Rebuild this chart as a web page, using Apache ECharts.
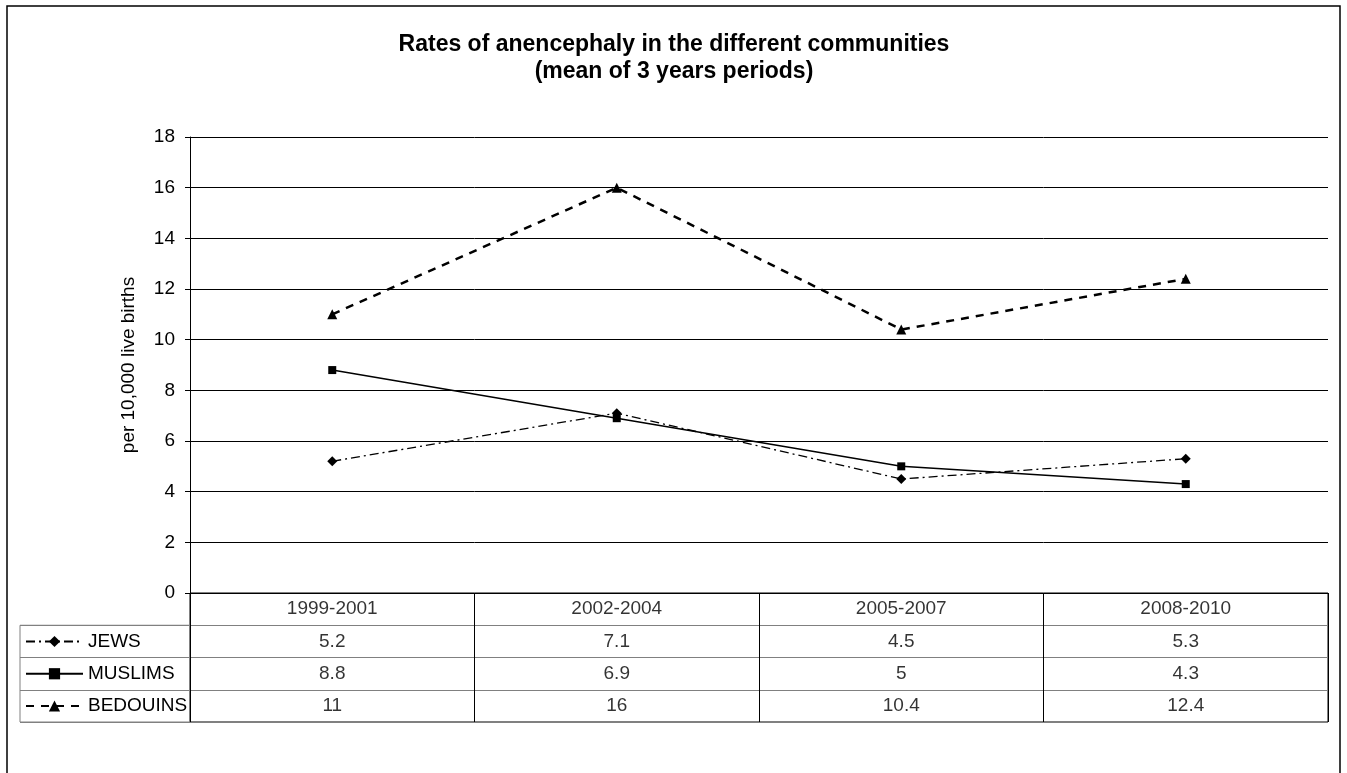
<!DOCTYPE html>
<html>
<head>
<meta charset="utf-8">
<script src="https://cdn.jsdelivr.net/npm/echarts@6/dist/echarts.min.js"></script>
<style>
html,body{margin:0;padding:0;background:#fff;}
#chart{width:1347px;height:773px;}
</style>
</head>
<body>
<div id="chart"></div>
<script>
var categories = ['1999-2001', '2002-2004', '2005-2007', '2008-2010'];
var seriesNames = ['JEWS', 'MUSLIMS', 'BEDOUINS'];
var jews = [5.2, 7.1, 4.5, 5.3];
var muslims = [8.8, 6.9, 5, 4.3];
var bedouins = [11, 16, 10.4, 12.4];
var yTicks = [0, 2, 4, 6, 8, 10, 12, 14, 16, 18];
var titleText = 'Rates of anencephaly in the different communities\n(mean of 3 years periods)';
var yName = 'per 10,000 live births';

var FONT = 'Liberation Sans, Arial, sans-serif';
var allValues = [jews, muslims, bedouins];

var tableRows = ['hdr'].concat(seriesNames);

var headerData = categories.map(function (c, i) {
  return { value: [i, 'hdr'], name: c };
});
var cellData = [];
seriesNames.forEach(function (s, si) {
  allValues[si].forEach(function (v, i) {
    cellData.push({ value: [i, s], name: String(v) });
  });
});

var chart = echarts.init(document.getElementById('chart'), null, { renderer: 'canvas' });
var option = {
  backgroundColor: '#fff',
  animation: false,
  textStyle: { fontFamily: FONT },
  title: {
    text: titleText,
    left: 674,
    top: 31,
    padding: 0,
    textAlign: 'center',
    textStyle: { fontFamily: FONT, fontSize: 23, fontWeight: 'bold', color: '#000', lineHeight: 27 }
  },
  graphic: [{
    type: 'rect',
    z: -10,
    silent: true,
    shape: { x: 7, y: 6, width: 1333, height: 820 },
    style: { fill: 'none', stroke: '#000', lineWidth: 1.5 }
  }],
  legend: {
    orient: 'vertical',
    left: 25,
    top: 632,
    padding: 0,
    itemWidth: 57,
    itemHeight: 14,
    itemGap: 13.25,
    data: seriesNames,
    textStyle: { fontFamily: FONT, fontSize: 19, color: '#000' },
    selectedMode: false
  },
  grid: [
    { left: 190, right: 19, top: 137, height: 456, show: false },
    { left: 190, right: 19, top: 593, height: 129, show: true, borderColor: '#000', borderWidth: 1, backgroundColor: 'transparent' },
    { left: 20, width: 170, top: 625.25, height: 96.75, show: true, borderColor: '#808080', borderWidth: 1, backgroundColor: 'transparent' }
  ],
  xAxis: [
    {
      gridIndex: 0, type: 'category', data: categories, boundaryGap: true,
      axisLine: { show: true, lineStyle: { color: '#000', width: 1 } },
      axisTick: { show: false }, axisLabel: { show: false }, splitLine: { show: false }
    },
    {
      gridIndex: 1, type: 'category', data: categories, boundaryGap: true,
      axisLine: { show: false }, axisTick: { show: false }, axisLabel: { show: false },
      splitLine: { show: true, interval: 0, lineStyle: { color: '#000', width: 1 } }
    },
    {
      gridIndex: 2, type: 'value', min: 0, max: 1, show: false
    }
  ],
  yAxis: [
    {
      gridIndex: 0, type: 'value', min: 0, max: 18, interval: 2,
      name: yName, nameLocation: 'middle', nameGap: 52, nameRotate: 90,
      nameTextStyle: { fontFamily: FONT, fontSize: 19, color: '#000' },
      axisLine: { show: true, lineStyle: { color: '#000', width: 1 } },
      axisTick: { show: true, inside: false, length: 5, lineStyle: { color: '#000' } },
      axisLabel: {
        margin: 15, fontFamily: FONT, fontSize: 19, color: '#000',
        formatter: function (v) { return yTicks.indexOf(v) >= 0 ? String(v) : ''; }
      },
      splitLine: { show: true, lineStyle: { color: '#000', width: 1 } }
    },
    {
      gridIndex: 1, type: 'category', data: tableRows, inverse: true,
      axisLine: { show: false }, axisTick: { show: false }, axisLabel: { show: false },
      splitLine: { show: true, interval: 0, lineStyle: { color: '#808080', width: 1 } }
    },
    {
      gridIndex: 2, type: 'category', data: seriesNames, inverse: true,
      axisLine: { show: false }, axisTick: { show: false }, axisLabel: { show: false },
      splitLine: { show: true, interval: 0, lineStyle: { color: '#808080', width: 1 } }
    }
  ],
  series: [
    {
      name: 'JEWS', type: 'line', xAxisIndex: 0, yAxisIndex: 0, data: jews,
      symbol: 'diamond', symbolSize: 10, showAllSymbol: true,
      itemStyle: { color: '#000' },
      lineStyle: { color: '#000', width: 1.3, type: [9, 4, 2, 4] }
    },
    {
      name: 'MUSLIMS', type: 'line', xAxisIndex: 0, yAxisIndex: 0, data: muslims,
      symbol: 'rect', symbolSize: 8, showAllSymbol: true,
      itemStyle: { color: '#000' },
      lineStyle: { color: '#000', width: 1.5, type: 'solid' }
    },
    {
      name: 'BEDOUINS', type: 'line', xAxisIndex: 0, yAxisIndex: 0, data: bedouins,
      symbol: 'triangle', symbolSize: 10, showAllSymbol: true,
      itemStyle: { color: '#000' },
      lineStyle: { color: '#000', width: 2.5, type: [8, 7] }
    },
    {
      name: 'header', type: 'scatter', xAxisIndex: 1, yAxisIndex: 1, data: headerData,
      symbolSize: 1, itemStyle: { color: 'transparent' }, silent: true,
      label: { show: true, position: 'inside', formatter: '{b}', fontFamily: FONT, fontSize: 19, color: '#000' }
    },
    {
      name: 'cells', type: 'scatter', xAxisIndex: 1, yAxisIndex: 1, data: cellData,
      symbolSize: 1, itemStyle: { color: 'transparent' }, silent: true,
      label: { show: true, position: 'inside', formatter: '{b}', fontFamily: FONT, fontSize: 19, color: '#000' }
    }
  ]
};
chart.setOption(option);
</script>
</body>
</html>
